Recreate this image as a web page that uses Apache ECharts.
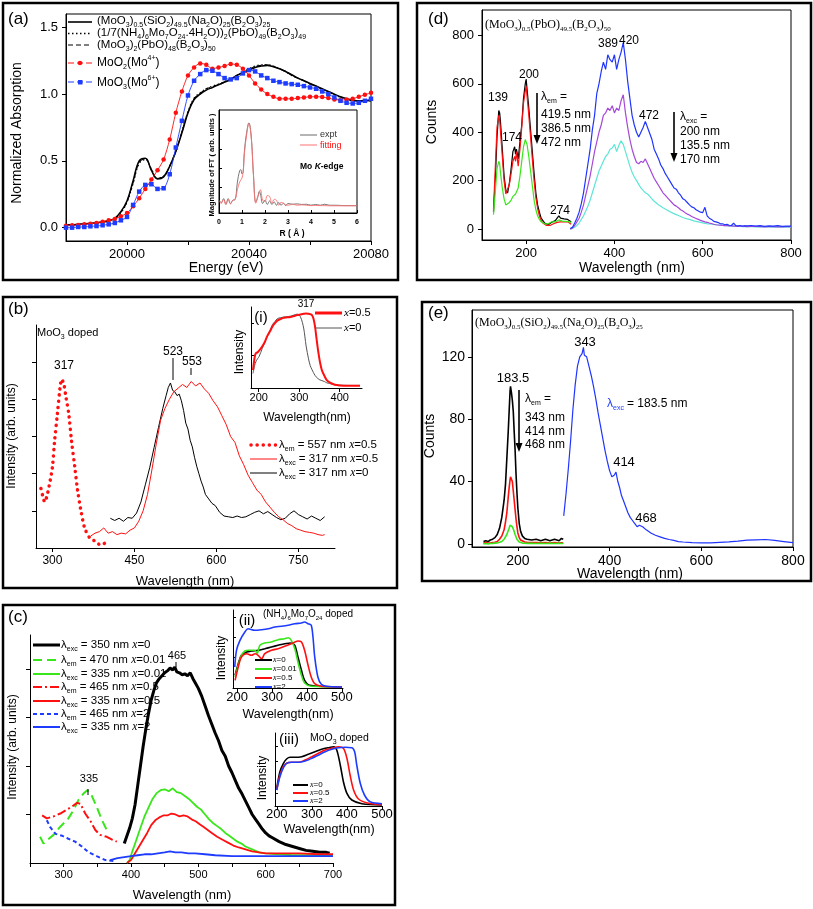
<!DOCTYPE html>
<html>
<head>
<meta charset="utf-8">
<title>Mo doped glasses</title>
<script src="https://cdn.jsdelivr.net/npm/echarts@6/dist/echarts.min.js"></script>
<style>
  html, body { margin: 0; padding: 0; background: #fff; }
  #chart { width: 813px; height: 909px; }
</style>
</head>
<body>
<div id="chart"></div>
<script>
// ---------- (a) XANES ----------
const aE = [19980,19982,19984,19986,19988,19990,19992,19994,19996,19998,20000,20002,20004,20006,20008,20010,20012,20014,20016,20018,20020,20022,20024,20026,20028,20030,20032,20034,20036,20038,20040,20042,20044,20046,20048,20050,20052,20054,20056,20058,20060,20062,20064,20066,20068,20070,20072,20074,20076,20078,20080];
const aSiGlass = [0.02,0.022,0.025,0.028,0.032,0.036,0.042,0.052,0.07,0.12,0.2,0.35,0.5,0.52,0.43,0.365,0.38,0.46,0.57,0.71,0.86,0.96,1.0,1.03,1.05,1.07,1.09,1.11,1.14,1.16,1.18,1.2,1.21,1.215,1.205,1.19,1.17,1.145,1.12,1.1,1.08,1.06,1.04,1.02,1.0,0.98,0.965,0.955,0.95,0.95,0.955];
const aNH4Glass = [0.018,0.02,0.022,0.026,0.03,0.035,0.041,0.05,0.066,0.11,0.19,0.33,0.48,0.51,0.44,0.37,0.385,0.46,0.57,0.72,0.87,0.97,1.01,1.04,1.06,1.075,1.095,1.115,1.14,1.165,1.19,1.21,1.22,1.22,1.21,1.19,1.17,1.14,1.12,1.1,1.075,1.055,1.035,1.015,0.995,0.975,0.96,0.95,0.945,0.945,0.95];
const aPbGlass = [0.02,0.022,0.024,0.027,0.031,0.036,0.042,0.051,0.068,0.115,0.195,0.34,0.49,0.515,0.435,0.37,0.382,0.46,0.575,0.715,0.865,0.965,1.005,1.04,1.055,1.07,1.09,1.112,1.14,1.162,1.185,1.205,1.215,1.218,1.207,1.19,1.168,1.143,1.12,1.1,1.078,1.058,1.038,1.018,0.998,0.978,0.962,0.952,0.947,0.947,0.952];
const aMoO2 = [0.015,0.018,0.02,0.025,0.03,0.035,0.045,0.055,0.065,0.085,0.11,0.16,0.22,0.29,0.36,0.43,0.51,0.66,0.86,1.02,1.14,1.2,1.23,1.22,1.19,1.2,1.21,1.225,1.22,1.19,1.14,1.08,1.035,1.0,0.98,0.965,0.965,0.965,0.97,0.975,0.98,0.98,0.978,0.97,0.96,0.955,0.96,0.965,0.98,0.995,1.01];
const aMoO3 = [0.0,0.0,0.005,0.005,0.01,0.012,0.018,0.025,0.035,0.055,0.08,0.17,0.27,0.32,0.325,0.29,0.295,0.4,0.6,0.8,0.99,1.1,1.15,1.18,1.175,1.15,1.12,1.11,1.12,1.155,1.18,1.17,1.14,1.12,1.1,1.09,1.08,1.075,1.07,1.06,1.05,1.04,1.02,1.0,0.975,0.95,0.935,0.93,0.935,0.95,0.965];
// inset FT
const ftR = [0,0.1,0.2,0.3,0.4,0.5,0.6,0.7,0.8,0.9,0.95,1.0,1.05,1.1,1.2,1.3,1.4,1.5,1.6,1.7,1.75,1.8,1.9,2.0,2.1,2.2,2.3,2.4,2.5,2.6,2.7,2.8,2.9,3.0,3.2,3.4,3.6,3.8,4.0,4.2,4.4,4.6,4.8,5.0,5.5,6.0];
const ftExpt = [0.36,0.24,0.44,0.14,0.44,0.17,0.36,0.39,1.29,1.88,1.93,1.71,1.8,2.81,3.83,4.34,3.66,1.63,0.27,0.61,0.81,0.69,0.19,0.36,0.14,0.32,0.14,0.27,0.1,0.24,0.1,0.2,0.08,0.19,0.15,0.17,0.14,0.15,0.1,0.14,0.1,0.15,0.1,0.1,0.08,0.08];
const ftFit = [0.3,0.2,0.4,0.15,0.4,0.18,0.35,0.4,0.9,1.3,1.4,1.5,1.8,2.7,3.7,4.3,3.6,1.6,0.2,0.55,0.75,0.9,0.35,0.3,0.6,0.55,0.2,0.4,0.35,0.1,0.25,0.2,0.12,0.1,0.15,0.1,0.12,0.1,0.08,0.09,0.08,0.08,0.07,0.07,0.07,0.07];

// ---------- (d) Pb glass ----------
const dExc = [126,130,134,138,140,142,146,150,154,158,162,166,170,174,176,178,182,186,190,194,198,200,202,206,210,214,218,222,226,230,234,238,242,246,250,254,258,262,266,270,274,278,282,286,290,294,298,302];
const dEx420 = [70,200,380,490,480,440,330,220,160,150,190,250,320,340,310,330,290,360,430,540,600,620,580,500,410,320,230,150,100,70,45,35,25,20,18,22,28,30,35,40,55,45,40,42,38,40,35,30];
const dEx386 = [80,250,420,470,450,400,300,200,145,145,185,230,280,300,280,320,260,330,420,520,570,590,550,470,380,290,200,130,85,55,35,25,18,15,12,15,20,22,25,28,30,30,28,30,28,30,25,20];
const dEx472 = [60,150,250,280,270,230,170,125,100,95,110,120,135,140,145,150,170,220,280,340,370,365,350,300,240,180,120,80,55,40,30,25,22,20,22,25,30,32,30,35,38,35,33,35,32,34,30,28];
const dEm = [300,305,310,315,320,325,330,335,340,345,350,355,360,365,370,375,380,385,390,395,400,405,410,415,420,425,430,435,440,445,450,455,460,465,470,475,480,485,490,495,500,505,510,515,520,525,530,535,540,545,550,555,560,565,570,575,580,585,590,595,600,605,610,615,620,625,630,635,640,645,650,655,660,665,670,675,680,685,690,695,700,710,720,730,740,750,760,770,780,790,800];
const dEm200 = [2,8,25,45,70,105,150,210,270,330,410,470,560,600,650,690,660,720,700,690,720,660,700,730,770,700,610,540,470,430,400,380,400,420,445,420,395,370,330,310,290,265,250,230,215,200,185,170,165,150,140,125,120,110,100,92,88,80,75,70,68,90,55,45,40,32,30,27,22,22,18,20,16,15,25,14,13,15,12,14,13,15,12,14,11,13,12,14,11,12,12];
const dEm135 = [0,5,15,30,45,70,100,140,180,220,270,320,360,400,430,470,480,500,490,510,480,500,490,530,555,480,420,370,330,300,275,270,280,275,290,270,250,230,210,195,180,165,150,140,130,120,110,100,95,88,80,75,68,62,58,52,48,44,40,36,33,30,28,25,23,20,18,17,16,15,14,14,13,13,12,12,11,12,12,11,10,11,11,10,9,10,10,9,9,10,10];
const dEm170 = [0,3,8,15,25,40,55,75,95,120,150,180,210,240,260,280,300,310,330,335,350,320,345,365,350,320,290,260,235,215,200,185,170,160,150,145,135,125,115,108,100,94,88,83,78,73,68,64,60,56,52,48,45,42,40,37,34,32,30,28,26,24,22,21,20,19,18,17,16,15,14,14,13,12,12,11,11,11,10,10,10,10,9,9,9,9,8,8,8,8,8];

// ---------- (b) MoO3 doped ----------
const bExcX = [279,282,286,291,296,300,304,309,314,317,321,325,330,335,341,346,352,359,369,379,388,397];
const bExcY = [0.8,0.71,0.62,0.73,0.91,1.09,1.44,1.8,2.16,2.27,2.2,2.02,1.8,1.44,1.09,0.78,0.51,0.27,0.13,0.09,0.04,0.07];
const bRedX = [370,378,386,394,402,410,418,426,434,442,450,458,466,474,482,490,498,506,514,522,530,538,546,554,562,570,578,586,594,602,610,618,626,634,642,650,658,666,674,682,690,698,706,714,722,730,738,746,754,762,770,778,786,794,798];
const bRedY = [0.16,0.2,0.22,0.27,0.2,0.22,0.18,0.2,0.19,0.24,0.27,0.36,0.5,0.72,1.05,1.4,1.72,1.88,2.0,2.1,2.15,2.2,2.16,2.24,2.18,2.22,2.14,2.08,1.98,1.9,1.78,1.66,1.5,1.42,1.24,1.12,0.98,0.88,0.78,0.72,0.62,0.55,0.48,0.42,0.38,0.33,0.3,0.26,0.24,0.22,0.21,0.2,0.18,0.17,0.18];
const bBlkX = [406,414,422,430,438,446,454,462,470,478,486,494,502,508,512,516,520,524,528,532,536,540,544,548,552,556,560,564,568,572,576,580,586,592,598,606,614,622,630,638,646,654,662,670,678,686,694,702,710,718,726,734,742,750,758,766,774,782,790,798];
const bBlkY = [0.4,0.37,0.4,0.36,0.41,0.4,0.47,0.62,0.85,1.08,1.35,1.62,1.88,2.05,2.16,2.22,2.12,2.1,2.05,2.07,1.98,1.85,1.68,1.6,1.45,1.36,1.22,1.1,1.0,0.9,0.82,0.72,0.66,0.6,0.57,0.48,0.43,0.42,0.41,0.43,0.41,0.42,0.45,0.48,0.5,0.46,0.49,0.45,0.41,0.38,0.4,0.46,0.5,0.45,0.42,0.39,0.43,0.4,0.37,0.42];
// inset (i)
const iX = [186,190,193,197,201,209,215,221,228,234,240,246,254,262,270,279,287,295,303,311,317,323,327,331,335,339,343,347,351,356,362,368,375,388,400,420,450];
const iHalf = [0.55,0.95,1.07,1.1,1.15,1.29,1.42,1.6,1.75,1.9,2.0,2.08,2.13,2.17,2.18,2.19,2.22,2.25,2.27,2.29,2.3,2.29,2.28,2.26,2.15,1.9,1.5,1.12,0.82,0.55,0.38,0.24,0.17,0.1,0.08,0.07,0.07];
const iZero = [0.45,0.7,0.81,0.9,0.97,1.23,1.4,1.6,1.78,1.96,2.05,2.14,2.17,2.19,2.2,2.22,2.25,2.28,2.2,1.85,1.3,0.9,0.7,0.58,0.48,0.39,0.33,0.28,0.25,0.23,0.2,0.16,0.14,0.1,0.09,0.08,0.08];

// ---------- (e) Si glass ----------
const eExc = [125,130,135,140,145,150,155,160,165,170,173,176,179,181,183,184,186,188,190,192,194,196,198,200,203,206,210,215,220,230,240,250,260,270,280,290,295,299];
const eEx343 = [1.5,2,1.5,2.5,3,4,6,10,17,28,38,55,72,85,98,101,97,92,85,72,60,45,33,23,13,8,5,3.5,3,2.5,3,2,3,2,3,2,3.5,3];
const eEx414 = [0.5,0.8,0.5,0.6,0.8,1,1.5,3,5,9,14,20,30,36,41,43,44,40,34,28,22,16,11,7,4,2.5,1.5,1.2,1,0.8,0.9,0.7,0.9,0.6,0.8,0.6,0.7,0.5];
const eEx468 = [0,0.2,0,0.2,0.3,0.5,0.6,1,1.5,3,4,6,8.5,10,12,12.5,13,11,9.5,8,6,4.5,3,2,1.2,0.8,0.5,0.4,0.3,0.3,0.2,0.3,0.2,0.3,0.2,0.3,0.2,0.2];
const eEm = [300,305,310,315,320,325,330,335,340,343,345,350,355,360,365,370,375,380,385,390,395,400,405,410,414,418,422,426,430,435,440,445,450,455,460,465,468,472,476,480,490,500,510,520,530,540,550,560,580,600,620,640,660,680,700,720,740,760,780,800];
const eEm183 = [18,32,48,66,86,102,114,120,122,126,121,120,114,108,101,93,84,76,68,60,53,47,43,44,46,40,36,31,28,24,20,17,15,13,11,12,13,11,10,9,7,5.5,4.5,3.5,2.8,2.2,1.5,1.2,0.8,0.6,0.7,1,1.3,1.8,2.4,2.6,2.8,2.2,1.5,0.8];

// ---------- (c) (NH4)6Mo7O24 doped ----------
const cX0 = [390,394,398,402,406,410,414,418,422,426,430,434,438,442,446,450,454,458,462,465,468,472,476,480,484,488,492,496,500,505,510,515,520,525,530,535,540,545,550,555,560,565,570,575,580,585,590,595,600,605,610,620,630,640,650,660,670,680,690,695];
const cExc0 = [0.2,0.28,0.36,0.46,0.6,0.8,1.0,1.2,1.38,1.54,1.68,1.78,1.86,1.9,1.93,1.96,1.98,2.01,1.99,2.02,1.97,1.96,1.94,1.95,1.93,1.96,1.9,1.85,1.8,1.72,1.62,1.52,1.43,1.34,1.26,1.16,1.1,1.0,0.93,0.85,0.77,0.71,0.64,0.57,0.5,0.45,0.4,0.35,0.31,0.28,0.26,0.22,0.19,0.17,0.15,0.13,0.12,0.11,0.11,0.1];
const cX001 = [394,398,402,408,414,420,426,432,438,444,450,456,462,468,474,480,486,492,498,504,510,516,522,528,534,540,546,552,558,564,570,580,590,600,620,640,660,680,700];
const cExc001 = [0,0.03,0.12,0.24,0.36,0.48,0.57,0.66,0.72,0.75,0.76,0.74,0.77,0.73,0.72,0.69,0.66,0.62,0.58,0.55,0.5,0.45,0.41,0.38,0.35,0.31,0.28,0.25,0.22,0.2,0.17,0.14,0.11,0.1,0.09,0.08,0.08,0.08,0.07];
const cX05 = [394,400,406,412,418,424,430,436,442,448,454,460,466,472,478,484,490,496,502,508,514,520,528,536,544,552,560,570,580,600,620,650,680,700];
const cExc05 = [0,0.03,0.1,0.17,0.24,0.31,0.39,0.44,0.47,0.49,0.49,0.51,0.5,0.48,0.49,0.48,0.45,0.43,0.4,0.37,0.34,0.31,0.27,0.24,0.21,0.18,0.16,0.14,0.12,0.1,0.1,0.1,0.09,0.09];
const cX2 = [369,380,390,400,410,420,430,440,450,458,466,475,485,495,510,525,550,600,650,700];
const cExc2 = [0.03,0.05,0.06,0.07,0.08,0.09,0.09,0.1,0.11,0.12,0.11,0.11,0.1,0.1,0.09,0.08,0.07,0.07,0.07,0.07];
const cEmX001 = [265,270,278,285,293,300,307,315,322,330,335,342,349,357,364];
const cEm001 = [0.27,0.2,0.25,0.29,0.36,0.41,0.46,0.55,0.65,0.72,0.75,0.69,0.58,0.44,0.34];
const cEmX05 = [268,275,285,295,305,312,320,325,332,340,347,354,364,372,379];
const cEm05 = [0.49,0.46,0.48,0.51,0.55,0.58,0.62,0.61,0.51,0.43,0.34,0.29,0.27,0.24,0.22];
const cEmX2 = [275,280,288,298,307,317,327,337,349,362,374];
const cEm2 = [0.44,0.37,0.3,0.28,0.25,0.22,0.17,0.11,0.07,0.03,0.02];
// inset (ii) diffuse reflectance, (NH4)6Mo7O24 doped
const iiX0 = [194,203,212,227,241,260,279,298,317,336,355,365,374,384,393,408,500];
const iiY0 = [12.7,24.3,32.7,36,37,37.7,39.3,41,42.7,44.3,45,42.7,31,17.7,7.7,2.7,1];
const iiX001 = [194,203,212,222,232,251,257,265,279,298,317,336,346,355,365,374,384,393,412,500];
const iiY001 = [11,22.7,32.7,37,37.7,37.7,34.3,42.7,45,46,48.3,49.3,50.3,47.7,39.3,26,12.7,5,1.7,1];
const iiX05 = [194,203,212,227,241,251,260,270,279,298,317,336,355,374,384,393,403,412,422,441,500];
const iiY05 = [7.7,21,31,34.3,32.7,34.3,32.7,29.3,34.3,37.7,39.3,41.7,44.3,47,46,37.7,22.7,11,4.3,1.7,1];
const iiX2 = [193,198,208,222,231,250,270,289,308,327,346,365,384,393,403,412,417,422,431,441,455,500];
const iiY2 = [21,37.7,47.7,56,59.3,57.7,58.3,59.3,61,61.7,62.7,64.3,65,66,64.3,62.7,51,31,11,3.7,1.7,1];
// inset (iii) MoO3 doped
const iiiX0 = [200,209,219,228,238,252,271,290,309,328,347,362,371,381,390,400,414,443,500];
const iiiY0 = [17.7,34.3,42.7,47,48.7,48.7,49.3,51.7,54.3,56.7,58.3,59.3,56,41,24.3,12.7,6,2.3,1];
const iiiX05 = [200,209,219,228,243,262,281,300,319,338,357,376,390,400,409,419,433,462,500];
const iiiY05 = [16,31,39.3,42.7,43.7,43.7,46,49.3,52.7,56,57.7,59.3,57.7,47.7,31,16,7,2.7,1.3];
const iiiX2 = [200,209,219,228,243,262,281,300,319,338,357,376,395,414,422,428,438,450,466,500];
const iiiY2 = [16,29.3,38.3,42.7,43.7,43.7,45,47.7,51,54.3,56.7,58.3,58.7,58.3,54.3,41,22.7,11,4.3,2.3];

const FONT = 'Liberation Sans';
const SERIF = 'Liberation Serif';
const RED = '#ff1010', GREEN = '#39e61a', BLUE = '#1e3cff';

const chart = echarts.init(document.getElementById('chart'), null, { renderer: 'canvas' });

function grid(left, top, width, height, frame, bg) {
  return { left, top, width, height, show: !!frame || !!bg, borderColor: '#000', borderWidth: frame ? 1 : 0,
    backgroundColor: bg || 'transparent', containLabel: false, outerBoundsMode: 'none' };
}
function axis(gi, min, max, ticks, labels, o) {
  o = o || {};
  return {
    type: 'value', gridIndex: gi, min, max,
    axisLine: { show: true, onZero: false, lineStyle: { color: '#000', width: 1 } },
    axisTick: { show: !!ticks, inside: !!o.inside, length: o.tl || 4, customValues: ticks || undefined, lineStyle: { color: '#000' } },
    axisLabel: { show: !!labels, customValues: labels || undefined, color: '#000', fontFamily: FONT,
      fontSize: o.fs || 13, fontWeight: o.fw || 'normal', margin: o.m == null ? 6 : o.m,
      formatter: o.fmt || (v => String(v)) },
    splitLine: { show: false }
  };
}
function line(gi, xs, ys, color, width, type, extra) {
  return Object.assign({
    type: 'line', xAxisIndex: gi, yAxisIndex: gi,
    data: xs.map((x, i) => [x, ys[i]]),
    showSymbol: false, symbol: 'none', silent: true,
    lineStyle: { color: color, width: width, type: type || 'solid' },
    itemStyle: { color: color }
  }, extra || {});
}

// text helpers (rich text for sub / superscripts)
function rich(fs, fam) {
  fam = fam || FONT;
  const sub = Math.max(6, Math.round(fs * 0.62));
  return {
    n: { fontSize: fs, fontFamily: fam, lineHeight: fs + 4 },
    b: { fontSize: sub, fontFamily: fam, lineHeight: sub, verticalAlign: 'bottom' },
    t: { fontSize: sub, fontFamily: fam, lineHeight: sub, verticalAlign: 'top' },
    i: { fontSize: fs, fontFamily: SERIF, fontStyle: 'italic', lineHeight: fs + 4 },
    bb: { fontSize: fs, fontFamily: fam, fontWeight: 'bold', lineHeight: fs + 4 },
    bi: { fontSize: fs, fontFamily: fam, fontWeight: 'bold', fontStyle: 'italic', lineHeight: fs + 4 }
  };
}
function txt(x, y, s, fs, o) {
  o = o || {};
  if (s.indexOf('{') < 0) s = '{n|' + s + '}';
  return {
    type: 'text', x, y, rotation: o.rot || 0, z: 50, silent: true,
    style: { text: s, rich: rich(fs, o.fam), fill: o.color || '#000', align: o.align || 'left',
      verticalAlign: 'middle', fontSize: fs, fontFamily: o.fam || FONT }
  };
}
function seg(x1, y1, x2, y2, color, w, dash) {
  return { type: 'line', z: 50, silent: true, shape: { x1, y1, x2, y2 },
    style: { stroke: color || '#000', lineWidth: w || 1, lineDash: dash || null, lineCap: dash && dash[0] < 1 ? 'round' : 'butt' } };
}
function arrow(x, y1, y2) {
  return [seg(x, y1, x, y2 - 7, '#000', 1.6),
    { type: 'polygon', z: 50, silent: true, shape: { points: [[x - 3.5, y2 - 9], [x + 3.5, y2 - 9], [x, y2]] }, style: { fill: '#000' } }];
}
function box(x, y, w, h) {
  return { type: 'rect', z: 60, silent: true, shape: { x, y, width: w, height: h }, style: { fill: 'none', stroke: '#000', lineWidth: 2.5 } };
}
const rot = Math.PI / 2;

const graphics = [
  box(3, 3, 395, 277), box(417, 3, 394, 277), box(3, 297, 394, 291), box(422, 302, 389, 279), box(3, 605, 392, 300),

  // (a)
  txt(8, 19, '(a)', 17),
  seg(68, 22, 92, 22, '#000', 1.6),
  txt(97, 21, '{n|(MoO}{b|3}{n|)}{b|0.5}{n|(SiO}{b|2}{n|)}{b|49.5}{n|(Na}{b|2}{n|O)}{b|25}{n|(B}{b|2}{n|O}{b|3}{n|)}{b|25}', 11.5),
  seg(68, 33.5, 92, 33.5, '#000', 1.3, [1.5, 2.5]),
  txt(97, 33, '{n|(1/7(NH}{b|4}{n|)}{b|6}{n|Mo}{b|7}{n|O}{b|24}{n|.4H}{b|2}{n|O))}{b|2}{n|(PbO)}{b|49}{n|(B}{b|2}{n|O}{b|3}{n|)}{b|49}', 11.5),
  seg(68, 45, 92, 45, '#000', 1.2, [5, 3]),
  txt(97, 45, '{n|(MoO}{b|3}{n|)}{b|2}{n|(PbO)}{b|48}{n|(B}{b|2}{n|O}{b|3}{n|)}{b|50}', 11.5),
  seg(68, 63, 92, 63, RED, 1, [6, 3]),
  { type: 'circle', z: 50, shape: { cx: 80, cy: 63, r: 2.3 }, style: { fill: RED } },
  txt(97, 63, '{n|MoO}{b|2}{n|(Mo}{t|4+}{n|)}', 12),
  seg(68, 82, 92, 82, BLUE, 1, [6, 3]),
  { type: 'rect', z: 50, shape: { x: 78, y: 80, width: 4.5, height: 4.5 }, style: { fill: BLUE } },
  txt(97, 83, '{n|MoO}{b|3}{n|(Mo}{t|6+}{n|)}', 12),
  txt(17, 133, 'Normalized Absorption', 14, { rot: rot, align: 'center' }),
  txt(226, 268, 'Energy (eV)', 14, { align: 'center' }),
  // (a) inset
  seg(300, 135, 317, 135, '#6a6a6a', 1),
  txt(320, 135, 'expt', 9, { color: '#333' }),
  seg(300, 145, 317, 145, '#ff7070', 1),
  txt(320, 146, 'fitting', 9, { color: RED }),
  txt(300, 167, '{bb|Mo }{bi|K}{bb|-edge}', 8.5),
  txt(212, 165, '{bb|Magnitude of FT ( arb. units )}', 7.5, { rot: rot, align: 'center' }),
  txt(292, 234, '{bb|R ( \u00c5 )}', 8.5, { align: 'center' }),

  // (d)
  txt(428, 19, '(d)', 17),
  txt(485, 25, '{n|(MoO}{b|3}{n|)}{b|0.5}{n|(PbO)}{b|49.5}{n|(B}{b|2}{n|O}{b|3}{n|)}{b|50}', 12, { fam: SERIF }),
  txt(498, 98, '139', 12, { align: 'center' }),
  txt(512, 138, '174', 12, { align: 'center' }),
  txt(529, 75, '200', 12, { align: 'center' }),
  txt(560, 211, '274', 12, { align: 'center' }),
  txt(608, 44, '389', 12, { align: 'center' }),
  txt(629, 41, '420', 12, { align: 'center' }),
  txt(649, 116, '472', 12, { align: 'center' }),
  ...arrow(537, 93, 144),
  txt(541, 97, '{n|\u03bb}{b|em}{n| =}', 12),
  txt(541, 115, '419.5 nm', 12),
  txt(541, 129, '386.5 nm', 12),
  txt(541, 143, '472 nm', 12),
  ...arrow(674, 112, 162),
  txt(680, 117, '{n|\u03bb}{b|exc}{n| =}', 12),
  txt(680, 132, '200 nm', 12),
  txt(680, 146, '135.5 nm', 12),
  txt(680, 160, '170 nm', 12),
  txt(432, 122, 'Counts', 14, { rot: rot, align: 'center' }),
  txt(632, 268, 'Wavelength (nm)', 14, { align: 'center' }),

  // (b)
  txt(8, 309, '(b)', 17),
  txt(37, 333, '{n|MoO}{b|3}{n| doped}', 11),
  txt(64, 366, '317', 12, { align: 'center' }),
  txt(173, 352, '523', 12, { align: 'center' }),
  seg(173, 358, 173, 380, '#000', 1),
  txt(192, 362, '553', 12, { align: 'center' }),
  seg(191, 368, 191, 375, '#000', 1),
  seg(251, 445, 277, 445, RED, 3.5, [0.1, 6]),
  txt(279, 445, '{n|\u03bb}{b|em}{n| = 557 nm }{i|x}{n|=0.5}', 11.5),
  seg(250, 459, 277, 459, RED, 1),
  txt(279, 459, '{n|\u03bb}{b|exc}{n| = 317 nm }{i|x}{n|=0.5}', 11.5),
  seg(250, 473, 277, 473, '#000', 1),
  txt(279, 473, '{n|\u03bb}{b|exc}{n| = 317 nm }{i|x}{n|=0}', 11.5),
  txt(12, 436, 'Intensity (arb. units)', 12, { rot: rot, align: 'center' }),
  txt(185, 581, 'Wavelength (nm)', 13, { align: 'center' }),
  txt(261, 318, '(i)', 15, { align: 'center' }),
  txt(306, 304, '317', 10, { align: 'center' }),
  seg(315, 313, 342, 313, RED, 3),
  txt(344, 313, '{i|x}{n|=0.5}', 11),
  seg(315, 328, 342, 328, '#555', 1),
  txt(344, 328, '{i|x}{n|=0}', 11),
  txt(240, 352, 'Intensity', 12, { rot: rot, align: 'center' }),
  txt(307, 418, 'Wavelength(nm)', 12, { align: 'center' }),

  // (e)
  txt(428, 313, '(e)', 17),
  txt(475, 323, '{n|(MoO}{b|3}{n|)}{b|0.5}{n|(SiO}{b|2}{n|)}{b|49.5}{n|(Na}{b|2}{n|O)}{b|25}{n|(B}{b|2}{n|O}{b|3}{n|)}{b|25}', 12, { fam: SERIF }),
  txt(585, 342, '343', 13, { align: 'center' }),
  txt(513, 378, '183.5', 13, { align: 'center' }),
  txt(624, 462, '414', 13, { align: 'center' }),
  txt(646, 518, '468', 13, { align: 'center' }),
  ...arrow(519, 390, 452),
  txt(525, 399, '{n|\u03bb}{b|em}{n| =}', 12),
  txt(525, 418, '343 nm', 12),
  txt(525, 432, '414 nm', 12),
  txt(525, 445, '468 nm', 12),
  txt(607, 404, '{n|\u03bb}{b|exc}', 12, { color: BLUE }),
  txt(627, 404, '= 183.5 nm', 12),
  txt(430, 436, 'Counts', 14, { rot: rot, align: 'center' }),
  txt(630, 574, 'Wavelength (nm)', 14, { align: 'center' }),

  // (c)
  txt(8, 617, '(c)', 17),
  txt(177, 656, '465', 11, { align: 'center' }),
  seg(176, 662, 176, 667, '#000', 1),
  txt(89, 779, '335', 11, { align: 'center' }),
  seg(88, 789, 88, 795, '#000', 1),
  seg(33, 645, 60, 645, '#000', 3),
  txt(61, 645, '{n|\u03bb}{b|exc}{n| = 350 nm }{i|x}{n|=0}', 11.5),
  seg(33, 660, 60, 660, GREEN, 2, [9, 5]),
  txt(61, 660, '{n|\u03bb}{b|em}{n| = 470 nm }{i|x}{n|=0.01}', 11.5),
  seg(33, 674, 60, 674, GREEN, 2),
  txt(61, 674, '{n|\u03bb}{b|exc}{n| = 335 nm }{i|x}{n|=0.01}', 11.5),
  seg(33, 687, 60, 687, RED, 2, [9, 3, 2, 3]),
  txt(61, 687, '{n|\u03bb}{b|em}{n| = 465 nm }{i|x}{n|=0.5}', 11.5),
  seg(33, 701, 60, 701, RED, 2),
  txt(61, 701, '{n|\u03bb}{b|exc}{n| = 335 nm }{i|x}{n|=0.5}', 11.5),
  seg(33, 714, 60, 714, BLUE, 2, [4, 3]),
  txt(61, 714, '{n|\u03bb}{b|em}{n| = 465 nm }{i|x}{n|=2}', 11.5),
  seg(33, 727, 60, 727, BLUE, 2),
  txt(61, 727, '{n|\u03bb}{b|exc}{n| = 335 nm }{i|x}{n|=2}', 11.5),
  txt(13, 747, 'Intensity (arb. units)', 12, { rot: rot, align: 'center' }),
  txt(182, 895, 'Wavelength (nm)', 13, { align: 'center' }),
  // (ii)
  txt(247, 621, '(ii)', 15, { align: 'center' }),
  txt(263, 614, '{n|(NH}{b|4}{n|)}{b|6}{n|Mo}{b|7}{n|O}{b|24}{n| doped}', 10),
  seg(255, 660, 272, 660, '#000', 2), txt(273, 660, '{i|x}{n|=0}', 8),
  seg(255, 669, 272, 669, GREEN, 2), txt(273, 669, '{i|x}{n|=0.01}', 8),
  seg(255, 678, 272, 678, RED, 2), txt(273, 678, '{i|x}{n|=0.5}', 8),
  seg(255, 687, 272, 687, BLUE, 2), txt(273, 687, '{i|x}{n|=2}', 8),
  txt(222, 658, 'Intensity', 12, { rot: rot, align: 'center' }),
  txt(288, 715, 'Wavelength(nm)', 12.5, { align: 'center' }),
  // (iii)
  txt(289, 740, '(iii)', 15, { align: 'center' }),
  txt(310, 738, '{n|MoO}{b|3}{n| doped}', 10.5),
  seg(293, 785, 308, 785, '#000', 2), txt(310, 785, '{i|x}{n|=0}', 8),
  seg(293, 793, 308, 793, RED, 2), txt(310, 793, '{i|x}{n|=0.5}', 8),
  seg(293, 801, 308, 801, BLUE, 2), txt(310, 801, '{i|x}{n|=2}', 8),
  txt(263, 778, 'Intensity', 12, { rot: rot, align: 'center' }),
  txt(329, 830, 'Wavelength(nm)', 12.5, { align: 'center' })
];

const option = {
  animation: false,
  backgroundColor: '#fff',
  textStyle: { fontFamily: FONT },
  grid: [
    grid(66, 14, 305, 227, true),          // 0 (a)
    grid(219, 110, 138, 103, true, '#fff'),// 1 (a) inset
    grid(482, 10, 309, 230, true),         // 2 (d)
    grid(36, 325, 299, 223, false),        // 3 (b)
    grid(251, 307, 111, 81, false),        // 4 (i)
    grid(472, 310, 321, 237, true),        // 5 (e)
    grid(30, 635, 303, 228, false),        // 6 (c)
    grid(233, 610, 110, 78, false),        // 7 (ii)
    grid(275, 733, 107, 73, false)         // 8 (iii)
  ],
  xAxis: [
    axis(0, 19980, 20080, [20000, 20020, 20040, 20060, 20080], [20000, 20040, 20080], { fs: 13, m: 7 }),
    axis(1, 0, 6, [0, 1, 2, 3, 4, 5, 6], [0, 1, 2, 3, 4, 5, 6], { fs: 7, fw: 'bold', m: 6, inside: true, tl: 3 }),
    axis(2, 100, 800, [200, 400, 600, 800], [200, 400, 600, 800], { fs: 13, m: 7 }),
    axis(3, 270, 817, [300, 450, 600, 750], [300, 450, 600, 750], { fs: 12, m: 7 }),
    axis(4, 181, 455, [200, 300, 400], [200, 300, 400], { fs: 11, m: 4 }),
    axis(5, 100, 800, [200, 400, 600, 800], [200, 400, 600, 800], { fs: 14, m: 7 }),
    axis(6, 250, 700, [250, 300, 350, 400, 450, 500, 550, 600, 650, 700], [300, 400, 500, 600, 700], { fs: 11, m: 6 }),
    axis(7, 188, 503, [200, 300, 400, 500], [200, 300, 400, 500], { fs: 13, m: 3 }),
    axis(8, 195, 500, [200, 300, 400, 500], [200, 300, 400, 500], { fs: 13, m: 2 })
  ],
  yAxis: [
    axis(0, -0.1, 1.6, [0, 0.5, 1, 1.5], [0, 0.5, 1, 1.5], { fs: 13, m: 8, fmt: v => Number(v).toFixed(1) }),
    axis(1, -0.3, 5, [1, 2, 3, 4], null, { inside: true, tl: 3 }),
    axis(2, -45, 905, [0, 200, 400, 600, 800], [0, 200, 400, 600, 800], { fs: 13, m: 8 }),
    axis(3, 0, 3, [0.5, 1, 1.5, 2, 2.5], null, {}),
    axis(4, 0, 2.5, [1, 2], null, { inside: true, tl: 3 }),
    axis(5, -2, 150, [0, 40, 80, 120], [0, 40, 80, 120], { fs: 14, m: 7 }),
    axis(6, 0, 2.35, [0.5, 1, 1.5, 2], null, {}),
    axis(7, 0, 78, [31, 51, 71], null, { inside: true, tl: 3 }),
    axis(8, 0, 73, [13, 45, 60], null, { inside: true, tl: 3 })
  ],
  graphic: graphics,
  series: [
    // (a)
    line(0, aE, aSiGlass, '#000', 1.6, 'solid', { smooth: 0.4 }),
    line(0, aE, aNH4Glass, '#000', 1.2, [1.5, 2.5], { smooth: 0.4 }),
    line(0, aE, aPbGlass, '#000', 1.1, [5, 3], { smooth: 0.4 }),
    line(0, aE, aMoO2, RED, 0.9, 'solid', { smooth: 0.3, showSymbol: true, symbol: 'circle', symbolSize: 4.5 }),
    line(0, aE, aMoO3, BLUE, 0.9, 'solid', { smooth: 0.3, showSymbol: true, symbol: 'rect', symbolSize: 4.5 }),
    line(1, ftR, ftExpt, '#6a6a6a', 0.9, 'solid', { smooth: 0.4 }),
    line(1, ftR, ftFit, '#ff7070', 0.9, 'solid', { smooth: 0.4 }),
    // (d)
    line(2, dExc, dEx420, '#000', 1.2),
    line(2, dExc, dEx386, RED, 1.2),
    line(2, dExc, dEx472, GREEN, 1.2),
    line(2, dEm, dEm170, '#5de6d6', 1.2),
    line(2, dEm, dEm135, '#a548d8', 1.2),
    line(2, dEm, dEm200, '#1f35ff', 1.2),
    // (b)
    line(3, bExcX, bExcY, RED, 3.5, [0.1, 6], { smooth: 0.3, lineStyle: { color: RED, width: 3.5, type: [0.1, 6], cap: 'round' } }),
    line(3, bBlkX, bBlkY, '#000', 1),
    line(3, bRedX, bRedY, RED, 1),
    line(4, iX, iZero, '#555', 1, 'solid', { smooth: 0.3 }),
    line(4, iX, iHalf, RED, 2, 'solid', { smooth: 0.3 }),
    // (e)
    line(5, eExc, eEx343, '#000', 1.6),
    line(5, eExc, eEx414, RED, 1.6),
    line(5, eExc, eEx468, GREEN, 1.6),
    line(5, eEm, eEm183, '#1f35ff', 1.2),
    // (c)
    line(6, cX0, cExc0, '#000', 3),
    line(6, cX001, cExc001, GREEN, 1.8),
    line(6, cX05, cExc05, RED, 1.8),
    line(6, cX2, cExc2, BLUE, 1.8),
    line(6, cEmX001, cEm001, GREEN, 2, [9, 5]),
    line(6, cEmX05, cEm05, RED, 2, [9, 3, 2, 3]),
    line(6, cEmX2, cEm2, BLUE, 2, [4, 3]),
    line(7, iiX0, iiY0, '#000', 1.6, 'solid', { smooth: 0.3 }),
    line(7, iiX001, iiY001, GREEN, 1.6, 'solid', { smooth: 0.3 }),
    line(7, iiX05, iiY05, RED, 1.6, 'solid', { smooth: 0.3 }),
    line(7, iiX2, iiY2, BLUE, 1.6, 'solid', { smooth: 0.3 }),
    line(8, iiiX0, iiiY0, '#000', 1.6, 'solid', { smooth: 0.3 }),
    line(8, iiiX05, iiiY05, RED, 1.6, 'solid', { smooth: 0.3 }),
    line(8, iiiX2, iiiY2, BLUE, 1.6, 'solid', { smooth: 0.3 })
  ]
};
chart.setOption(option);
window.addEventListener('resize', () => chart.resize());
</script>
</body>
</html>
